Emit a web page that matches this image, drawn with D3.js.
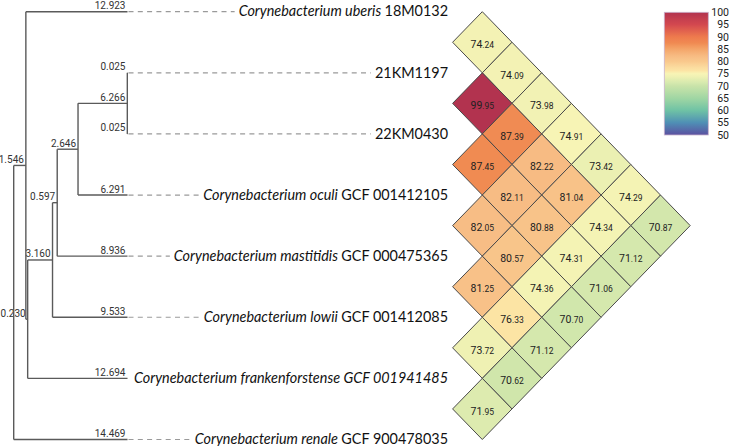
<!DOCTYPE html>
<html><head><meta charset="utf-8">
<script src="https://cdn.jsdelivr.net/npm/d3@7"></script>
<style>
html,body{margin:0;padding:0;background:#fff;}
svg{display:block;}
</style></head>
<body>
<svg id="chart" width="730" height="446"></svg>
<script>
// ---- Data ----
const nodeIds      = ["root","A","uberis","B","C","D","E","F","21KM1197","22KM0430","oculi","mastitidis","lowii","frank","renale"];
const nodeParents  = ["","root","A","A","B","C","D","E","F","F","E","D","C","B","root"];
const branchLengths= [0,1.546,12.923,0.230,3.160,0.597,2.646,6.266,0.025,0.025,6.291,8.936,9.533,12.694,14.469];

const leafOrder   = ["uberis","21KM1197","22KM0430","oculi","mastitidis","lowii","frank","renale"];
const leafItalic  = ["Corynebacterium uberis","","","Corynebacterium oculi","Corynebacterium mastitidis","Corynebacterium lowii","Corynebacterium frankenforstense GCF 001941485","Corynebacterium renale"];
const leafPlain   = ["18M0132","21KM1197","22KM0430","GCF 001412105","GCF 000475365","GCF 001412085","","GCF 900478035"];

// ANI values, row i vs leaves i+1..7
const aniRows = [
  [74.24, 74.09, 73.98, 74.91, 73.42, 74.29, 70.87],
  [99.95, 87.39, 82.22, 81.04, 74.34, 71.12],
  [87.45, 82.11, 80.88, 74.31, 71.06],
  [82.05, 80.57, 74.36, 70.70],
  [81.25, 76.33, 71.12],
  [73.72, 70.62],
  [71.95]
];
const legendTicks = [100,95,90,85,80,75,70,65,60,55,50];

// colour ramp stops (style)
const rampDomain = [50,55,60,65,70,71,73,74,75,76,77.5,80,82,85,87.5,90,95,100];
const rampColors = ["#5b50a0","#4f8fb5","#6fc2a5","#a0d6a3","#c9e3a9","#d4e8ad","#e6eeb1","#f2f2b4","#f8f4b5","#fce6a6","#fbdc9f","#f9c88c","#f7bd85","#f4a569","#f08a52","#ee7a4d","#d3484f","#b2334f"];

// ---- Setup ----
const svg = d3.select("#chart");
const lenById = new Map(nodeIds.map((d,i)=>[d,branchLengths[i]]));
const root = d3.stratify().id(d=>d.id).parentId(d=>d.parent)(
  nodeIds.map((d,i)=>({id:d,parent:nodeParents[i]||null}))
);
root.eachBefore(n=>{ n.dist = (n.parent? n.parent.dist:0) + lenById.get(n.id); });

const yLeaf = d3.scalePoint().domain(leafOrder).range([11.7, 439.5]);
const xTree = d3.scaleLinear().domain([0, 14.469]).range([13.7, 127.5]);

root.eachAfter(n=>{
  if(!n.children){ n.y = yLeaf(n.id); }
  else { n.y = (n.children[0].y + n.children[n.children.length-1].y)/2; }
  n.x = xTree(n.dist);
});

const gTree = svg.append("g");
const lineCol = "#5a5a5a";
const numFont = "Roboto, 'DejaVu Sans Condensed', sans-serif";
// horizontal branches
root.descendants().filter(n=>n.parent).forEach(n=>{
  gTree.append("line").attr("x1",n.parent.x).attr("x2",n.x).attr("y1",n.y).attr("y2",n.y)
    .attr("stroke",lineCol).attr("stroke-width",1.4);
  gTree.append("text").attr("x",n.x-2).attr("y",n.y-2.5).attr("text-anchor","end")
    .attr("font-family",numFont).attr("font-size",10)
    .attr("fill","#333").text(lenById.get(n.id).toFixed(3));
});
// vertical connectors
root.descendants().filter(n=>n.children).forEach(n=>{
  const ys = n.children.map(c=>c.y);
  gTree.append("line").attr("x1",n.x).attr("x2",n.x).attr("y1",d3.min(ys)).attr("y2",d3.max(ys))
    .attr("stroke",lineCol).attr("stroke-width",1.4);
});

// leaf labels
const labelRight = 448;
const labFont = "Lato, 'Open Sans', sans-serif";
leafOrder.forEach((id,i)=>{
  const n = root.find(d=>d.id===id);
  const t = gTree.append("text").attr("x",labelRight).attr("y",n.y).attr("dy","0.33em")
    .attr("text-anchor","end").attr("font-family",labFont).attr("font-size",14.4).attr("fill","#111");
  if(leafItalic[i]) t.append("tspan").attr("font-style","italic").text(leafItalic[i] + (leafPlain[i]?" ":""));
  if(leafPlain[i]) t.append("tspan").text(leafPlain[i]);
  const w = t.node().getComputedTextLength();
  const start = labelRight - w - 4;
  if(start - n.x > 6){
    gTree.append("line").attr("x1",n.x+1).attr("x2",start).attr("y1",n.y).attr("y2",n.y)
      .attr("stroke","#9a9a9a").attr("stroke-width",1.2).attr("stroke-dasharray","5,4.3");
  }
});

// ---- Heatmap ----
const color = d3.scaleLinear().domain(rampDomain).range(rampColors).interpolate(d3.interpolateRgb).clamp(true);

const xDiag = d3.scaleLinear().domain([1,7]).range([482.3, 660.5]);
const hw = (xDiag(7)-xDiag(1))/6;
const hh = yLeaf.step()/2;

const cells = [];
aniRows.forEach((row,i)=>row.forEach((v,k)=>{ const j=i+k+1; cells.push({i,j,v}); }));

const gHeat = svg.append("g");
const cg = gHeat.selectAll("g.cell").data(cells).join("g").attr("class","cell")
  .attr("transform",d=>`translate(${xDiag(d.j-d.i)},${(yLeaf(leafOrder[d.i])+yLeaf(leafOrder[d.j]))/2})`);
cg.append("path").attr("d",`M0,${-hh}L${hw},0L0,${hh}L${-hw},0Z`)
  .attr("fill",d=>color(d.v)).attr("stroke","#4a4a4a").attr("stroke-width",1);
const ct = cg.append("text").attr("text-anchor","middle").attr("dy","0.36em")
  .attr("font-family",numFont).attr("fill","#222");
ct.append("tspan").attr("font-size",10.5).text(d=>d.v.toFixed(2).split(".")[0]);
ct.append("tspan").attr("font-size",8.5).text(d=>"."+d.v.toFixed(2).split(".")[1]);

// ---- Legend ----
const lx = 664.3, lw = 44;
const yLeg = d3.scaleLinear().domain([50,100]).range([135,12.3]);
const defs = svg.append("defs");
const grad = defs.append("linearGradient").attr("id","lg").attr("x1",0).attr("x2",0).attr("y1",1).attr("y2",0);
d3.range(0,1.0001,0.025).forEach(t=>{
  grad.append("stop").attr("offset",t).attr("stop-color",color(50+50*t));
});
svg.append("rect").attr("x",lx).attr("y",yLeg(100)).attr("width",lw).attr("height",yLeg(50)-yLeg(100))
  .attr("fill","url(#lg)").attr("stroke","#c9b3cc").attr("stroke-width",0.8);
svg.append("g").selectAll("text").data(legendTicks).join("text")
  .attr("x",729).attr("y",d=>yLeg(d)).attr("dy","0.35em").attr("text-anchor","end")
  .attr("font-family",numFont).attr("font-size",10.5).attr("fill","#222")
  .text(d=>d);
</script>
</body></html>
